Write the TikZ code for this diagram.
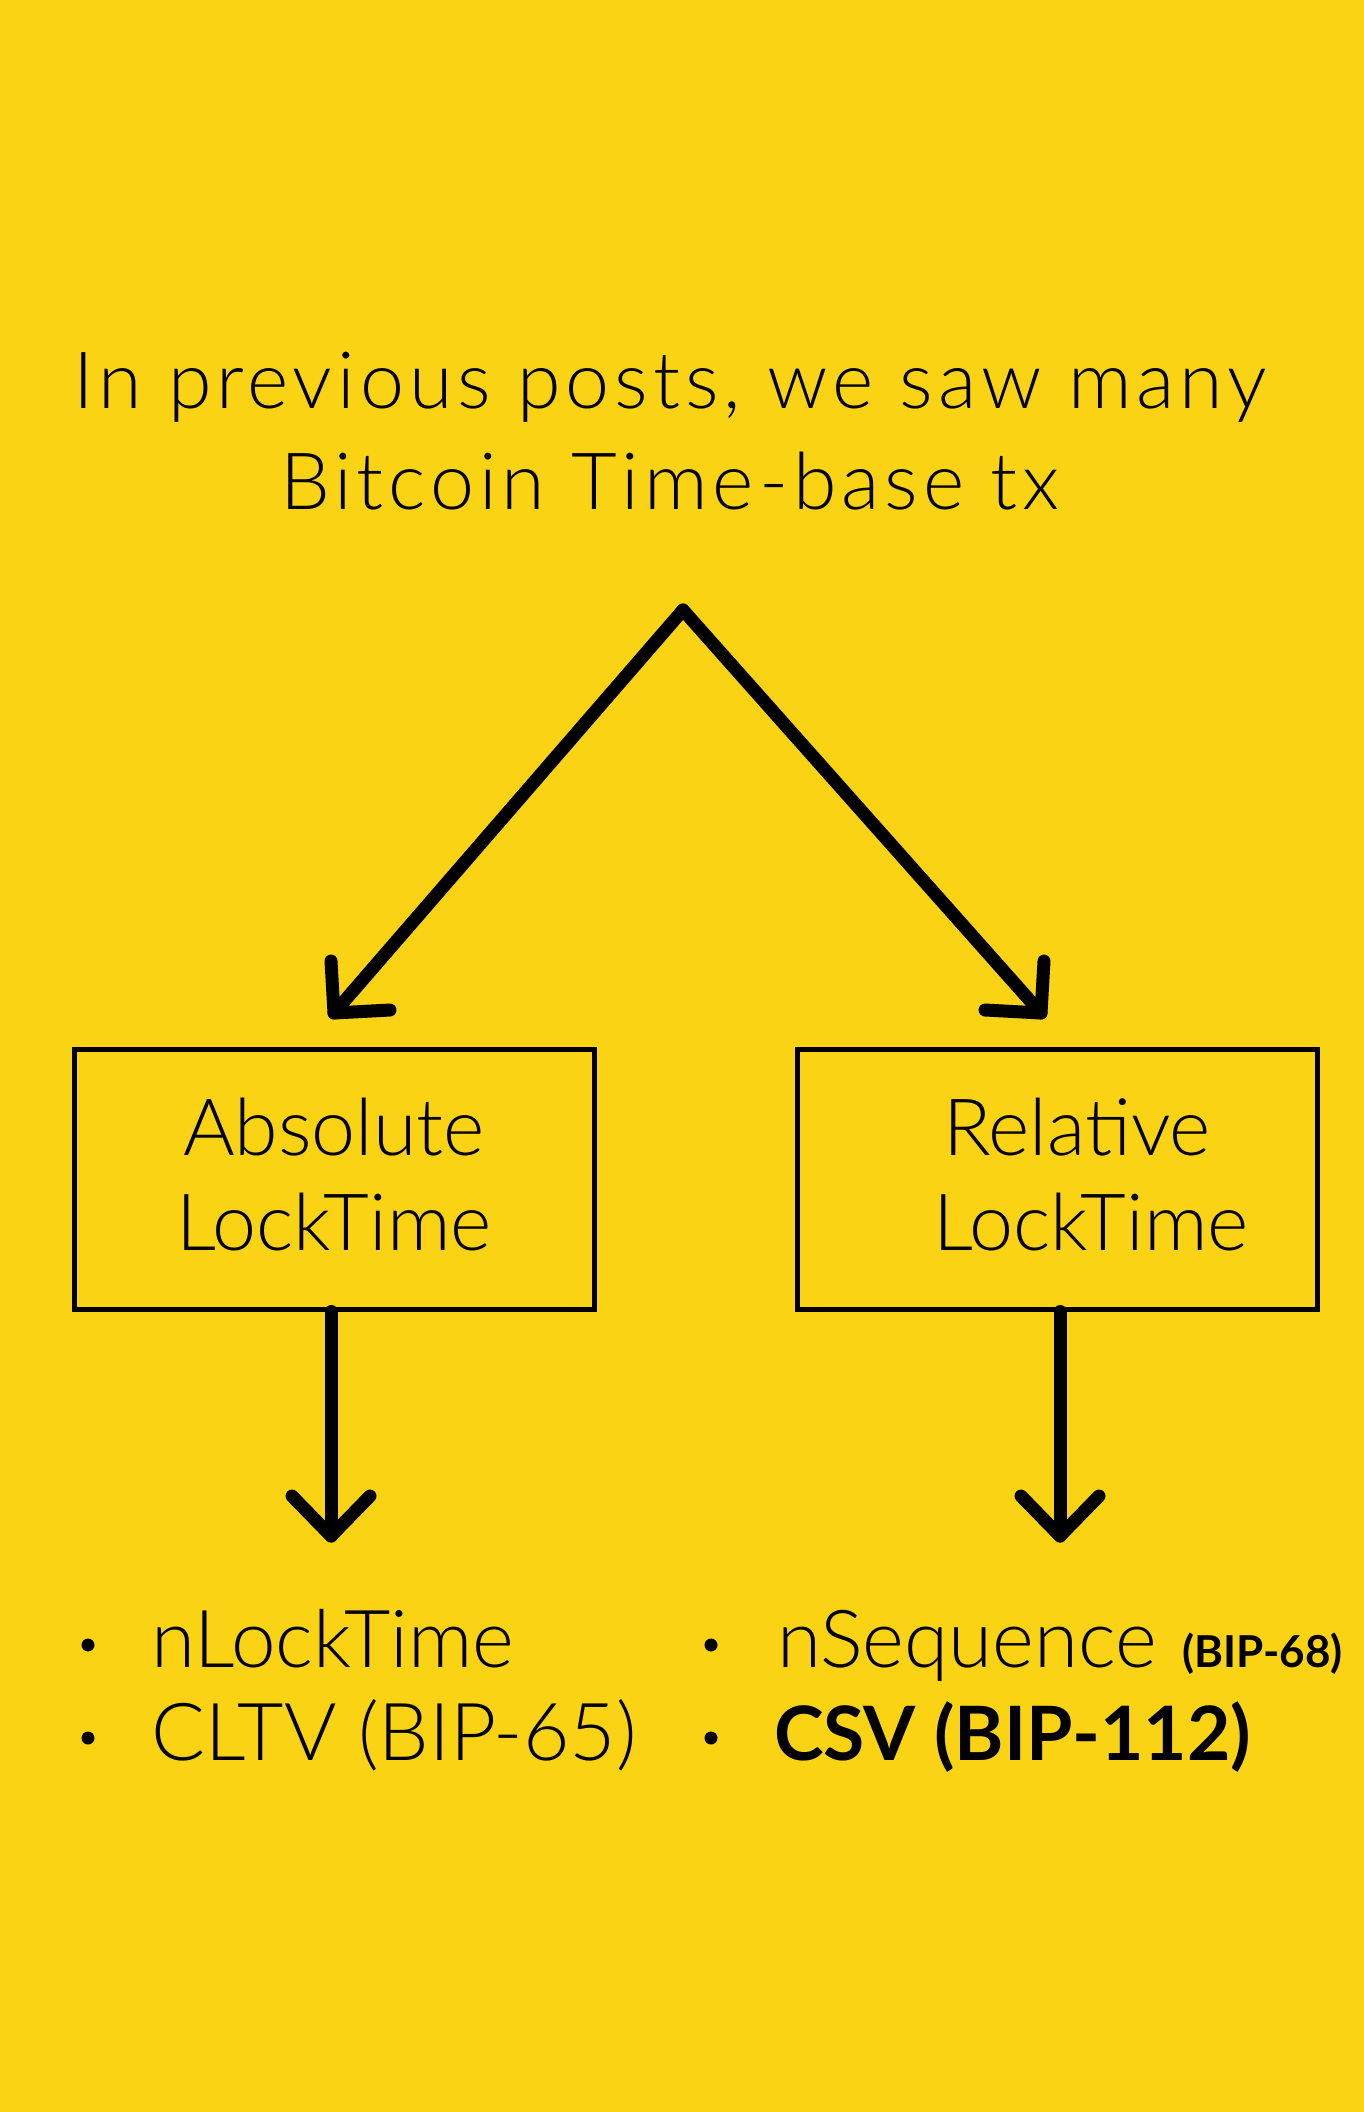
\documentclass[tikz,border=0pt]{standalone}
\usepackage{fontspec}
\setmainfont{Lato}
\newfontfamily\lightfont{Lato Light}
\usetikzlibrary{calc}
\definecolor{bg}{HTML}{FAD414}
\begin{document}
\begin{tikzpicture}[x=1pt,y=-1pt,
  txt/.style={anchor=base,inner sep=0pt,font=\fontsize{79}{90}\lightfont},
  lefttxt/.style={anchor=base west,inner sep=0pt,font=\fontsize{80}{90}\lightfont},
  titletxt/.style={anchor=base,inner sep=0pt,font=\fontsize{79}{90}\lightfont\addfontfeatures{LetterSpace=6.2}},
  boxst/.style={draw=black,line width=5pt,minimum width=520pt,minimum height=260pt,inner sep=0pt},
  arr/.style={line width=13pt,line cap=round,line join=round},
  dot/.style={circle,fill=black,minimum size=13pt,inner sep=0pt}]
\fill[bg] (0,0) rectangle (1364,2112);
\useasboundingbox (0,0) rectangle (1364,2112);
% title
\node[titletxt] (t1) at (670,408) {In previous posts, we saw many};
\node[titletxt] (t2) at (670,509) {Bitcoin Time-base tx};
% boxes
\node[boxst] (absbox) at (334,1179) {};
\node[boxst] (relbox) at (1057.5,1179) {};
\node[txt] (abs1) at (334,1155) {Absolute};
\node[txt] (abs2) at (334,1250) {LockTime};
\node[txt] (rel1) at (1077,1155) {Relative};
\node[txt] (rel2) at (1091,1250) {LockTime};
% diagonal arrows
\coordinate (apex) at (683,610);
\coordinate (tipL) at (334,1013);
\coordinate (tipR) at (1041,1013);
\draw[arr] (apex) -- (tipL);
\draw[arr] (apex) -- (tipR);
\draw[arr] ($(tipL)+(-3,-52)$) -- (tipL) -- ($(tipL)+(56,-3)$);
\draw[arr] ($(tipR)+(3,-52)$) -- (tipR) -- ($(tipR)+(-56,-3)$);
% down arrows
\coordinate (dtipL) at (331,1536);
\coordinate (dtipR) at (1060,1536);
\draw[arr] (absbox.south -| dtipL) -- (dtipL);
\draw[arr] (relbox.south -| dtipR) -- (dtipR);
\draw[arr] ($(dtipL)+(-39,-40)$) -- (dtipL) -- ($(dtipL)+(39,-40)$);
\draw[arr] ($(dtipR)+(-39,-40)$) -- (dtipR) -- ($(dtipR)+(39,-40)$);
% lists
\node[dot] (b1) at (88,1645) {};
\node[dot] (b2) at (88,1738) {};
\node[dot] (b3) at (711,1645) {};
\node[dot] (b4) at (711,1738) {};
\node[lefttxt] (l1) at (151,1667) {nLockTime};
\node[lefttxt] (l2) at (151,1760) {CLTV (BIP-65)};
\node[lefttxt] (r1) at (777,1667) {nSequence};
\node[anchor=base west,inner sep=0pt,font=\fontsize{44}{50}\selectfont\bfseries] (r1b) at (1182,1667) {(BIP-68)};
\node[anchor=base west,inner sep=0pt,font=\fontsize{75}{86}\selectfont\bfseries] (r2) at (774,1760) {CSV (BIP-112)};
\end{tikzpicture}
\end{document}
